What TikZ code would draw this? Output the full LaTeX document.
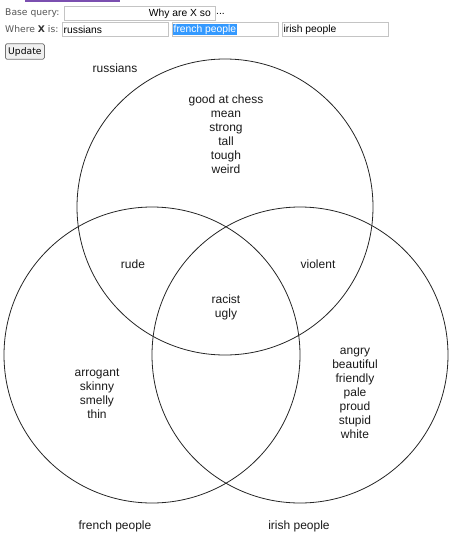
\documentclass[tikz,border=0pt]{standalone}
\usepackage{fontspec}
\setmainfont{Liberation Sans}
\newfontfamily\formfont{DejaVu Sans}
\definecolor{formgray}{HTML}{555555}
\definecolor{boxborder}{HTML}{C4C4C4}
\definecolor{selblue}{HTML}{3399FF}
\definecolor{barpurple}{HTML}{7B4FB0}
\begin{document}
\begin{tikzpicture}[x=1pt,y=-1pt,
  venn/.style={circle,draw=black!85,line width=0.8pt,minimum size=296pt,inner sep=0pt,outer sep=0pt},
  lbl/.style={font=\fontsize{12}{14}\selectfont,align=center,inner sep=0pt,text=black!90},
  formlbl/.style={font=\formfont\fontsize{9.2}{11}\selectfont,text=formgray,inner sep=0pt,anchor=west},
  inbox/.style={draw=boxborder,fill=white,line width=0.9pt,minimum height=14pt,inner sep=0pt,outer sep=0pt},
  intext/.style={font=\fontsize{10.3}{12}\selectfont,inner sep=0pt,anchor=west,text=black}
  ]
\useasboundingbox (0,0) rectangle (450,542);
% top purple bar
\fill[barpurple] (25,0) rectangle (120,2);
% form
\node[formlbl] (bq) at (5,13.5) {Base query:};
\node[inbox,minimum width=151pt,anchor=west] (bqbox) at (64,13.5) {};
\node[intext,anchor=east] (bqtext) at (211,13.5) {Why are X so};
\node[intext] (bqdots) at (216,13.5) {...};
\node[formlbl] (wx) at (5,29.5) {Where {\bfseries\color{black!80}X} is:};
\node[inbox,minimum width=106pt,anchor=west] (b1) at (62,29.5) {};
\node[inbox,minimum width=106pt,anchor=west] (b2) at (172,29.5) {};
\node[inbox,minimum width=106pt,anchor=west] (b3) at (282,29.5) {};
\node[intext] (t1) at (63.5,29.5) {russians};
\node[intext,text=white,fill=selblue,inner xsep=0.5pt,inner ysep=0pt,minimum height=11.5pt] (t2) at (173,29.5) {french people};
\node[intext] (t3) at (283.5,29.5) {irish people};
\node[draw=black!55,fill=black!6,rounded corners=1.5pt,line width=0.8pt,minimum width=39pt,minimum height=15.5pt,inner sep=0pt,anchor=west,font=\formfont\fontsize{9.2}{11}\selectfont] (upd) at (5,51.5) {Update};
% circles
\node[venn] (ru) at (225,207) {};
\node[venn] (fr) at (152,355) {};
\node[venn] (ir) at (300,355) {};
% labels
\node[lbl] (lru) at (115,68) {russians};
\node[lbl] (lfr) at (115,526) {french people};
\node[lbl] (lir) at (299,526) {irish people};
\node[lbl] (onlyru) at (226,134.5) {good at chess\\mean\\strong\\tall\\tough\\weird};
\node[lbl] (rufr) at (133,264) {rude};
\node[lbl] (ruir) at (318,264) {violent};
\node[lbl] (all) at (226,307) {racist\\ugly};
\node[lbl] (onlyfr) at (97,393.5) {arrogant\\skinny\\smelly\\thin};
\node[lbl] (onlyir) at (355,393.5) {angry\\beautiful\\friendly\\pale\\proud\\stupid\\white};
\end{tikzpicture}
\end{document}
